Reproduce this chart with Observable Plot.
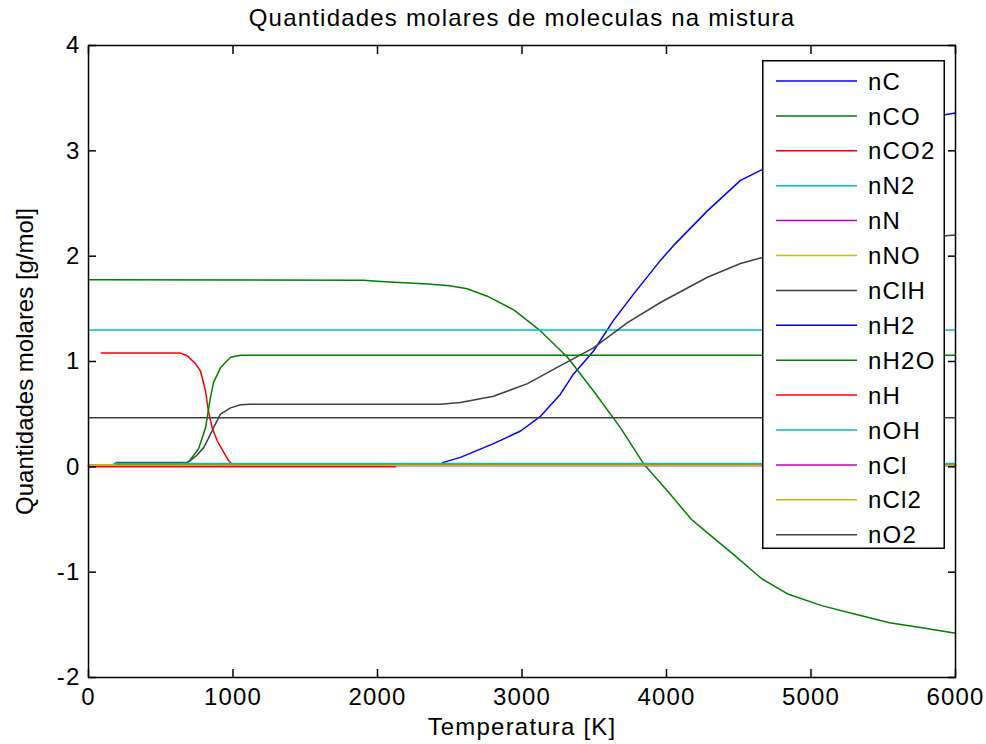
<!DOCTYPE html>
<html><head><meta charset="utf-8">
<script src="https://cdn.jsdelivr.net/npm/d3@7"></script>
<script src="https://cdn.jsdelivr.net/npm/@observablehq/plot@0.6"></script>
<style>
body{margin:0;background:#fff;}
#wrap{position:relative;width:986px;height:744px;font-family:"Liberation Sans",Arial,sans-serif;}
#legend{position:absolute;left:762px;top:60px;}
#wrap text.hz{letter-spacing:1.2px;}
</style></head><body><div id="wrap"></div>
<script>
// ---------- data ----------
const seriesNames = ["nC","nCO","nCO2","nN2","nN","nNO","nClH","nH2","nH2O","nH","nOH","nCl","nCl2","nO2"];
const seriesColors = ["#0000ff","#008000","#ff0000","#00bfbf","#bf00bf","#bfbf00","#404040",
                      "#0000ff","#008000","#ff0000","#00bfbf","#bf00bf","#bfbf00","#404040"];
const xTicks = [0,1000,2000,3000,4000,5000,6000];
const yTicks = [-2,-1,0,1,2,3,4];

const nC_T   = [2450,2574,2803,2990,3128,3266,3356,3495,3633,3772,3958,4048,4283,4512,4644,4850,5100,5400,5700,6000];
const nC_v   = [0.04,0.09,0.22,0.34,0.48,0.69,0.88,1.10,1.39,1.64,1.96,2.10,2.43,2.72,2.81,2.93,3.06,3.19,3.29,3.36];
const nCO_T  = [0,1900,2050,2350,2500,2620,2760,2943,3128,3315,3495,3682,3841,4007,4173,4242,4471,4657,4844,5080,5308,5543,5779,6000];
const nCO_v  = [1.775,1.772,1.757,1.735,1.72,1.69,1.62,1.49,1.29,1.04,0.72,0.37,0.03,-0.23,-0.50,-0.58,-0.84,-1.06,-1.21,-1.32,-1.40,-1.48,-1.53,-1.58];
const nCO2_T = [88,637,683,740,775,810,830,856,890,935,969,990];
const nCO2_v = [1.08,1.08,1.054,0.98,0.91,0.72,0.53,0.37,0.25,0.14,0.06,0.03];
const nN2_T  = [0,6000];      const nN2_v  = [1.30,1.30];
const nN_T   = [0,6000];      const nN_v   = [0.012,0.012];
const nNO_T  = [0,6000];      const nNO_v  = [0.015,0.015];
const nClH_T = [190,680,706,750,796,830,865,913,983,1052,1120,2436,2574,2803,3038,3266,3495,3730,3958,4283,4512,4644,5000,5500,6000];
const nClH_v = [0.042,0.042,0.06,0.11,0.18,0.27,0.37,0.50,0.56,0.59,0.595,0.595,0.61,0.67,0.79,0.96,1.13,1.37,1.56,1.80,1.93,1.98,2.07,2.15,2.20];
const nH2_T  = [190,6000];    const nH2_v  = [0.03,0.03];
const nH2O_T = [190,680,706,761,810,844,865,913,983,1052,6000];
const nH2O_v = [0.03,0.03,0.07,0.17,0.37,0.66,0.80,0.94,1.04,1.06,1.06];
const nH_T   = [0,2125];      const nH_v   = [0,0];
const nOH_T  = [175,6000];    const nOH_v  = [0.031,0.031];
const nCl_T  = [0,6000];      const nCl_v  = [0.012,0.012];
const nCl2_T = [0,6000];      const nCl2_v = [0.015,0.015];
const nO2_T  = [0,6000];      const nO2_v  = [0.465,0.465];

const seriesT = [nC_T,nCO_T,nCO2_T,nN2_T,nN_T,nNO_T,nClH_T,nH2_T,nH2O_T,nH_T,nOH_T,nCl_T,nCl2_T,nO2_T];
const seriesV = [nC_v,nCO_v,nCO2_v,nN2_v,nN_v,nNO_v,nClH_v,nH2_v,nH2O_v,nH_v,nOH_v,nCl_v,nCl2_v,nO2_v];

const rows = [];
seriesNames.forEach((name, k) => {
  seriesT[k].forEach((t, i) => rows.push({name, T: t, v: seriesV[k][i]}));
});

const FONT = '"Liberation Sans", Arial, sans-serif';
const FS = 24;

const chart = Plot.plot({
  width: 986, height: 744,
  marginTop: 45, marginLeft: 88, marginRight: 31, marginBottom: 67,
  x: {domain: [0, 6000]},
  y: {domain: [-2, 4]},
  color: {domain: seriesNames, range: seriesColors},
  style: {fontFamily: FONT, fontSize: FS + "px", color: "#000", background: "#fff"},
  marks: [
    Plot.line(rows, {x: "T", y: "v", z: "name", stroke: "name", strokeWidth: 1.5, curve: "linear"}),
    Plot.frame({stroke: "#000", strokeWidth: 1.5}),
    Plot.axisX({anchor: "bottom", ticks: xTicks, tickSize: -8, tickPadding: 18, tickFormat: d => String(d), label: null, stroke: "#000", strokeWidth: 1.5, fill: "#000", className: "hz"}),
    Plot.axisX({anchor: "top", ticks: xTicks, tickSize: -8, tickFormat: () => "", label: null, stroke: "#000", strokeWidth: 1.5}),
    Plot.axisY({anchor: "left", ticks: yTicks, tickSize: -8, tickPadding: 16, tickFormat: d => String(d), label: null, stroke: "#000", strokeWidth: 1.5, fill: "#000", className: "hz"}),
    Plot.axisY({anchor: "right", ticks: yTicks, tickSize: -8, tickFormat: () => "", label: null, stroke: "#000", strokeWidth: 1.5}),
    Plot.text(["Quantidades molares de moleculas na mistura"], {frameAnchor: "top", lineAnchor: "middle", textAnchor: "middle", dy: -27, fontSize: FS, fill: "#000", className: "hz"}),
    Plot.text(["Temperatura [K]"], {frameAnchor: "bottom", lineAnchor: "middle", textAnchor: "middle", dy: 50, fontSize: FS, fill: "#000", className: "hz"}),
    Plot.text(["Quantidades molares [g/mol]"], {frameAnchor: "left", lineAnchor: "middle", textAnchor: "middle", dx: -63, rotate: -90, fontSize: FS, fill: "#000"})
  ]
});
document.getElementById("wrap").appendChild(chart);
// apply letter spacing to horizontal text groups
d3.select(chart).selectAll("g.hz text").classed("hz", true);

// ---------- legend ----------
const LW = 183, LH = 489, rowGap = 34.9, row0 = 21;
const leg = d3.select("#wrap").append("svg").attr("id", "legend")
  .attr("width", LW).attr("height", LH);
leg.append("rect").attr("x", 0.75).attr("y", 0.75).attr("width", LW - 1.5).attr("height", LH - 1.5)
  .attr("fill", "#fff").attr("stroke", "#000").attr("stroke-width", 1.5);
seriesNames.forEach((name, i) => {
  const y = row0 + i * rowGap;
  leg.append("line").attr("x1", 14).attr("x2", 95).attr("y1", y).attr("y2", y)
    .attr("stroke", seriesColors[i]).attr("stroke-width", 1.5);
  leg.append("text").attr("x", 106).attr("y", y).attr("dy", "0.36em").attr("class", "hz")
    .attr("font-family", FONT).attr("font-size", FS).attr("fill", "#000").text(name);
});
</script></body></html>
